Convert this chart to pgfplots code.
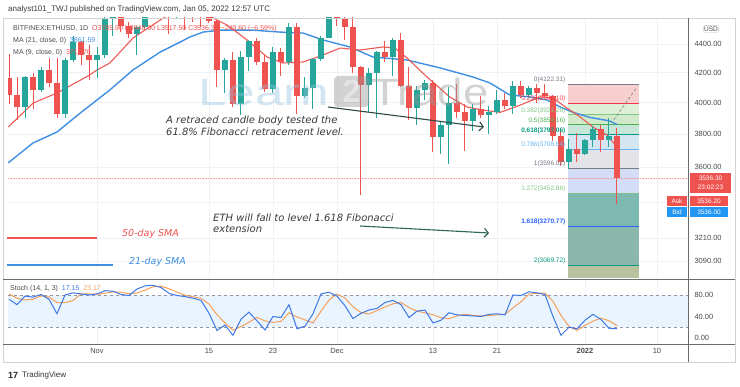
\documentclass[border=0pt]{standalone}
\usepackage{fontspec}
\setmainfont{Liberation Sans}
\newfontfamily\dejavu{DejaVu Sans}
\usepackage{pgfplots}
\usepackage{pgfplotstable}
\pgfplotsset{compat=1.18}
\usetikzlibrary{arrows.meta}

\definecolor{tvgreen}{HTML}{26A69A}
\definecolor{tvred}{HTML}{EF5350}
\definecolor{mared}{HTML}{EE5A55}
\definecolor{mablue}{HTML}{3F8FE3}
\definecolor{stk}{HTML}{3F78E6}
\definecolor{std}{HTML}{F4A05C}
\definecolor{gridc}{HTML}{EEF1F6}
\definecolor{txt}{HTML}{3A3A3A}
\definecolor{lbl}{HTML}{4A4A4A}
\definecolor{sep}{HTML}{6B6B6B}
\definecolor{fz0}{HTML}{F7CFCF}
\definecolor{fz1}{HTML}{DDEFD6}
\definecolor{fz2}{HTML}{D2EACC}
\definecolor{fz3}{HTML}{C6E6D8}
\definecolor{fz4}{HTML}{D5E6F3}
\definecolor{fz5}{HTML}{E4E4E8}
\definecolor{fz6}{HTML}{D3DDF7}
\definecolor{fz7}{HTML}{7DB9B1}
\definecolor{fz8}{HTML}{8BB7AC}
\definecolor{fz9}{HTML}{B7C39F}
\definecolor{fl0}{HTML}{787B86}
\definecolor{fl1}{HTML}{F23645}
\definecolor{fl2}{HTML}{81C784}
\definecolor{fl3}{HTML}{4CAF50}
\definecolor{fl4}{HTML}{089981}
\definecolor{fl5}{HTML}{64B5F6}
\definecolor{fl7}{HTML}{81C784}
\definecolor{fl8}{HTML}{2962FF}
\definecolor{fl9}{HTML}{089981}
\definecolor{arr1}{HTML}{2F4A44}
\definecolor{arr2}{HTML}{2E6655}
\definecolor{bidblue}{HTML}{2196F3}
\definecolor{wmblue}{HTML}{96C3E1}
\definecolor{wmgrey}{HTML}{969696}

\pgfplotstableread{
d o h l c
-11 4163 4330 3990 4050
-10 4050 4170 3890 3972
-9 3972 4180 3900 4170
-8 4170 4200 3960 4085
-7 4085 4240 4070 4220
-6 4220 4300 4100 4130
-5 4130 4300 3900 3925
-4 3925 4300 3900 4285
-3 4285 4460 4270 4414
-2 4414 4420 4250 4320
-1 4320 4390 4150 4290
0 4290 4380 4160 4320
1 4320 4600 4300 4585
2 4585 4665 4460 4605
3 4605 4670 4490 4530
4 4530 4560 4440 4475
5 4475 4530 4320 4520
6 4520 4630 4510 4620
7 4620 4820 4610 4810
8 4810 4870 4710 4735
9 4735 4870 4470 4635
10 4635 4780 4580 4730
11 4730 4810 4500 4665
12 4665 4700 4560 4645
13 4645 4690 4520 4625
14 4625 4770 4550 4570
15 4570 4575 4100 4215
16 4215 4300 4060 4290
17 4290 4345 3970 3990
18 3990 4350 3920 4310
19 4310 4430 4210 4420
20 4420 4440 4250 4270
21 4270 4320 4070 4090
22 4090 4380 4060 4340
23 4340 4370 4180 4270
24 4270 4550 4250 4525
25 4525 4550 3930 4040
26 4040 4170 4030 4095
27 4095 4300 3960 4295
28 4295 4460 4280 4445
29 4445 4780 4440 4630
30 4630 4780 4530 4590
31 4590 4640 4430 4520
32 4520 4640 4200 4240
33 4240 4245 3440 4115
34 4115 4230 3940 4195
35 4195 4350 3900 4345
36 4345 4420 4270 4310
37 4310 4440 4180 4430
38 4430 4480 4100 4110
39 4110 4240 3890 3965
40 3965 4110 3860 4085
41 4085 4150 4020 4130
42 4130 4150 3690 3780
43 3780 3880 3680 3860
44 3860 4100 3620 4000
45 4000 4120 3900 3940
46 3940 3990 3700 3880
47 3880 3990 3820 3960
48 3960 4040 3900 3920
49 3920 3980 3800 3940
50 3940 4080 3930 4020
51 4020 4060 3960 3980
52 3980 4140 3930 4110
53 4110 4140 4030 4050
54 4050 4110 4030 4095
55 4095 4120 4000 4065
56 4065 4125 4030 4040
57 4040 4050 3760 3790
58 3790 3830 3610 3630
59 3630 3770 3590 3710
60 3710 3810 3630 3680
61 3680 3770 3675 3765
62 3765 3850 3720 3830
63 3830 3855 3690 3765
64 3765 3900 3720 3790
65 3790 3840 3392 3536
}\candles

\pgfplotstableread{
d v
-11.1 3844
-8 3997
-5 4063
-0.9 4184
0 4218
1.6 4266
4.5 4443
7.9 4575
10 4650
13 4660
14.5 4590
16.25 4538
18.75 4429
21.25 4308
23.25 4266
25.75 4273
28.25 4322
30.4 4371
32.9 4357
35.75 4379
37.25 4371
38.75 4301
41.25 4170
44.1 4037
46.25 3972
48.25 3952
50.4 3938
52.9 3985
55.4 4037
57 4030
58.75 3965
60.4 3908
62 3844
63.75 3795
65 3722
}\manine

\pgfplotstableread{
d v
-11.1 3627
-8 3746
-5 3814
-2.1 3933
1.6 4083
4.5 4218
7.9 4343
10.4 4414
11.6 4450
13.25 4486
15.4 4500
19.5 4500
22.9 4486
25.75 4479
28.25 4429
31.6 4379
34.5 4308
38.75 4287
42.9 4232
47 4170
49.1 4130
51.6 4050
54.1 4037
56.25 4017
57.9 3972
59.5 3938
61.6 3905
64 3884
65 3861
}\matwenty

\pgfplotstableread{
d k dd
-11 72 82
-10 62 74
-9 78 70.7
-8 76 72
-7 81 78.3
-6 72 76.3
-5 45 66
-4 80 65.7
-3 84 69.7
-2 82 82
-1 80 82
0 82 81.3
1 88 83.3
2 87 85.7
3 81 85.3
4 79 82.3
5 91 83.7
6 97 89
7 98 95.3
8 94 96.3
9 83 91.7
10 79 85.3
11 77 79.7
12 74 76.7
13 70 73.7
14 46 63.3
15 14 43.3
16 24 28
17 5 14.3
18 35 21.3
19 48 29.3
20 32 38.3
21 15 31.7
22 40 29
23 38 31
24 62 46.7
25 17 39
26 22 33.7
27 45 28
28 82 49.7
29 85 70.7
30 78 81.7
31 60 74.3
32 36 58
33 46 47.3
34 52 44.7
35 55 51
36 66 57.7
37 70 63.7
38 62 66
39 38 56.7
40 50 50
41 52 46.7
42 28 43.3
43 33 37.7
44 47 36
45 43 41
46 42 44
47 41 42
48 40 41
49 44 41.7
50 45 43
51 43 44
52 80 56
53 79 67.3
54 86 81.7
55 84 83
56 81 83.7
57 40 68.3
58 5 42
59 20 21.7
60 17 14
61 33 23.3
62 44 31.3
63 34.4 37.1
64 18 32.1
65 17.15 23.17
}\stoch

\newcommand{\fs}[1]{\fontsize{#1}{#1}\selectfont}

\begin{document}
\begin{tikzpicture}
\useasboundingbox (0pt,0pt) rectangle (740pt,387pt);
\fill[white] (0pt,0pt) rectangle (740pt,387pt);

% ---------------- main price panel ----------------
\begin{axis}[
  at={(8pt,109pt)}, anchor=south west, scale only axis,
  width=680pt, height=260pt,
  xmin=-11.125, xmax=73.875,
  y coord trafo/.code={\pgfmathparse{ln(#1)}},
  y coord inv trafo/.code={\pgfmathparse{exp(#1)}},
  ymin=3007.6, ymax=4590,
  axis line style={draw=none}, tick style={draw=none},
  xtick={0,14,22,30,42,50,61,70}, xticklabels={},
  ytick={3090,3210,3400,3600,3800,4000,4200,4400},
  yticklabels={3090.00,3210.00,,3600.00,3800.00,4000.00,4200.00,4400.00},
  yticklabel pos=right,
  yticklabel style={font=\fs{7.5}, text=lbl, anchor=west, xshift=3pt},
  xmajorgrids, ymajorgrids, major grid style={gridc, line width=0.7pt},
  clip=true,
]
% fib extension zones
\addplot[fill=fz0, draw=none] coordinates {(58.9,4122.31) (67.75,4122.31) (67.75,3998.10) (58.9,3998.10)} --cycle;
\addplot[fill=fz1, draw=none] coordinates {(58.9,3998.10) (67.75,3998.10) (67.75,3921.26) (58.9,3921.26)} --cycle;
\addplot[fill=fz2, draw=none] coordinates {(58.9,3921.26) (67.75,3921.26) (67.75,3859.16) (58.9,3859.16)} --cycle;
\addplot[fill=fz3, draw=none] coordinates {(58.9,3859.16) (67.75,3859.16) (67.75,3797.06) (58.9,3797.06)} --cycle;
\addplot[fill=fz4, draw=none] coordinates {(58.9,3797.06) (67.75,3797.06) (67.75,3708.64) (58.9,3708.64)} --cycle;
\addplot[fill=fz5, draw=none] coordinates {(58.9,3708.64) (67.75,3708.64) (67.75,3596.02) (58.9,3596.02)} --cycle;
\addplot[fill=fz6, draw=none] coordinates {(58.9,3596.02) (67.75,3596.02) (67.75,3452.86) (58.9,3452.86)} --cycle;
\addplot[fill=fz7, draw=none] coordinates {(58.9,3452.86) (67.75,3452.86) (67.75,3270.77) (58.9,3270.77)} --cycle;
\addplot[fill=fz8, draw=none] coordinates {(58.9,3270.77) (67.75,3270.77) (67.75,3069.72) (58.9,3069.72)} --cycle;
\addplot[fill=fz9, draw=none] coordinates {(58.9,3069.72) (67.75,3069.72) (67.75,2990) (58.9,2990)} --cycle;
% fib lines
\addplot[fl0, line width=0.9pt] coordinates {(58.9,4122.31) (67.75,4122.31)};
\addplot[fl1, line width=0.9pt] coordinates {(58.9,3998.10) (67.75,3998.10)};
\addplot[fl2, line width=0.9pt] coordinates {(58.9,3921.26) (67.75,3921.26)};
\addplot[fl3, line width=0.9pt] coordinates {(58.9,3859.16) (67.75,3859.16)};
\addplot[fl4, line width=0.9pt] coordinates {(58.9,3797.06) (67.75,3797.06)};
\addplot[fl5, line width=0.9pt] coordinates {(58.9,3708.64) (67.75,3708.64)};
\addplot[fl0, line width=0.9pt] coordinates {(58.9,3596.02) (67.75,3596.02)};
\addplot[fl7, line width=0.9pt] coordinates {(58.9,3452.86) (67.75,3452.86)};
\addplot[fl8, line width=0.9pt] coordinates {(58.9,3270.77) (67.75,3270.77)};
\addplot[fl9, line width=0.9pt] coordinates {(58.9,3069.72) (67.75,3069.72)};
\addplot[gray, densely dashed, line width=0.6pt] coordinates {(64.6,3890) (67.4,4095)};
% current price line
\addplot[tvred!60, densely dotted, line width=0.6pt] coordinates {(-11.125,3536.3) (73.875,3536.3)};
% moving averages
\addplot[mablue, line width=1.4pt] table[x=d,y=v] {\matwenty};
\addplot[mared, line width=1.1pt] table[x=d,y=v] {\manine};
% candles
\pgfplotstablegetrowsof{\candles}
\pgfmathtruncatemacro{\lastrow}{\pgfplotsretval-1}
\pgfplotsforeachungrouped \rr in {0,...,\lastrow}{%
  \pgfplotstablegetelem{\rr}{d}\of{\candles}\let\cd\pgfplotsretval
  \pgfplotstablegetelem{\rr}{o}\of{\candles}\let\co\pgfplotsretval
  \pgfplotstablegetelem{\rr}{h}\of{\candles}\let\ch\pgfplotsretval
  \pgfplotstablegetelem{\rr}{l}\of{\candles}\let\cl\pgfplotsretval
  \pgfplotstablegetelem{\rr}{c}\of{\candles}\let\cc\pgfplotsretval
  \ifdim\cc pt<\co pt \def\ccol{tvred}\else\def\ccol{tvgreen}\fi
  \edef\doplot{%
    \noexpand\addplot[draw=\ccol, line width=1pt] coordinates {(\cd,\cl) (\cd,\ch)};
    \noexpand\addplot[draw=\ccol, line width=5.8pt, line cap=butt] coordinates {(\cd,\co) (\cd,\cc)};
  }\doplot
}
% fib labels
\node[anchor=south east, inner sep=1pt, font=\fs{6.5}, text=fl0] at (axis cs:58.7,4122.31) {0(4122.31)};
\node[anchor=south east, inner sep=1pt, font=\fs{6.5}, text=fl1] at (axis cs:58.7,3998.10) {0.236(3998.10)};
\node[anchor=south east, inner sep=1pt, font=\fs{6.5}, text=fl2] at (axis cs:58.7,3921.26) {0.382(3921.26)};
\node[anchor=south east, inner sep=1pt, font=\fs{6.5}, text=fl3] at (axis cs:58.7,3859.16) {0.5(3859.16)};
\node[anchor=south east, inner sep=1pt, font=\bfseries\fs{6.5}, text=fl4] at (axis cs:58.7,3797.06) {0.618(3797.06)};
\node[anchor=south east, inner sep=1pt, font=\fs{6.5}, text=fl5] at (axis cs:58.7,3708.64) {0.786(3708.64)};
\node[anchor=south east, inner sep=1pt, font=\fs{6.5}, text=fl0] at (axis cs:58.7,3596.02) {1(3596.02)};
\node[anchor=south east, inner sep=1pt, font=\fs{6.5}, text=fl7] at (axis cs:58.7,3452.86) {1.272(3452.86)};
\node[anchor=south east, inner sep=1pt, font=\bfseries\fs{6.5}, text=fl8] at (axis cs:58.7,3270.77) {1.618(3270.77)};
\node[anchor=south east, inner sep=1pt, font=\fs{6.5}, text=fl9] at (axis cs:58.7,3069.72) {2(3069.72)};
\end{axis}

% ---------------- stochastic panel ----------------
\begin{axis}[
  at={(8pt,43pt)}, anchor=south west, scale only axis,
  width=680pt, height=64pt,
  xmin=-11.125, xmax=73.875, ymin=-11.2, ymax=107.9,
  axis line style={draw=none}, tick style={draw=none},
  xtick={0,14,22,30,42,50,61,70},
  xticklabels={Nov,15,23,Dec,13,21,\textbf{2022},10},
  xticklabel style={font=\fs{7.5}, text=lbl, anchor=north, yshift=-1pt},
  ytick={0,40,80}, yticklabels={0.00,40.00,80.00},
  yticklabel pos=right,
  yticklabel style={font=\fs{7.5}, text=lbl, anchor=west, xshift=3pt},
  xmajorgrids, major grid style={gridc, line width=0.7pt},
]
\addplot[fill=bidblue!10, draw=none] coordinates {(-11.125,20) (73.875,20) (73.875,80) (-11.125,80)} --cycle;
\addplot[fl0!80, dashed, line width=0.6pt] coordinates {(-11.125,80) (73.875,80)};
\addplot[fl0!80, dashed, line width=0.6pt] coordinates {(-11.125,20) (73.875,20)};
\addplot[std, line width=1pt] table[x=d,y=dd] {\stoch};
\addplot[stk, line width=1pt] table[x=d,y=k] {\stoch};
\end{axis}

\begin{scope}[x=1pt,y=1pt]
% ---------------- frame and separators ----------------
\draw[gray!35, line width=0.6pt] (3,25) rectangle (735,369);
\draw[sep, line width=0.7pt] (3,108) -- (735,108);
\draw[sep, line width=0.7pt] (3,43) -- (735,43);
\draw[sep, line width=0.7pt] (688,25) -- (688,369);

% watermark
\begin{scope}[opacity=0.42]
\node[anchor=base west, inner sep=0, font=\fs{38}, text=wmblue, xscale=1.35] at (198,281) {Learn};
\fill[wmgrey, rounded corners=4pt] (334,280) rectangle (369,311);
\node[anchor=base, inner sep=0, font=\bfseries\fs{32}, text=white] at (351.5,284) {2};
\node[anchor=base west, inner sep=0, font=\fs{38}, text=wmgrey, xscale=1.2] at (371,281) {Trade};
\end{scope}

% header and legends
\node[anchor=west, inner sep=0, font=\fs{8}, text=txt] at (8,378) {analyst101\_TWJ published on TradingView.com, Jan 05, 2022 12:57 UTC};
\node[anchor=west, inner sep=0, font=\fs{7}, text=lbl] at (13,358) {BITFINEX:ETHUSD, 1D\ \ \textcolor{tvred}{O3785.90 H3848.90 L3517.50 C3536.30 −249.60 (−6.59\%)}};
\node[anchor=west, inner sep=0, font=\fs{7}, text=lbl] at (13,346) {MA (21, close, 0)\ \ \textcolor{mablue}{3861.59}};
\node[anchor=west, inner sep=0, font=\fs{7}, text=lbl] at (13,334) {MA (9, close, 0)\ \ \textcolor{tvred}{3711.76}};
\node[anchor=west, inner sep=0, font=\fs{7}, text=lbl] at (10,98) {Stoch (14, 1, 3)\ \ \textcolor{stk}{17.15}\ \ \textcolor{std}{23.17}};

% annotations
\node[anchor=west, inner sep=0, font=\dejavu\itshape\fs{10}, text=txt] at (166,266) {A retraced candle body tested the};
\node[anchor=west, inner sep=0, font=\dejavu\itshape\fs{10}, text=txt] at (166,255) {61.8\% Fibonacci retracement level.};
\draw[arr1, line width=1.1pt, -{Straight Barb[length=4pt,width=9pt]}] (328,280) -- (484,260);
\node[anchor=west, inner sep=0, font=\dejavu\itshape\fs{10}, text=txt] at (213,169) {ETH will fall to level 1.618 Fibonacci};
\node[anchor=west, inner sep=0, font=\dejavu\itshape\fs{10}, text=txt] at (213,158) {extension};
\draw[arr2, line width=1.1pt, -{Straight Barb[length=4pt,width=9pt]}] (360,161) -- (489,154);
\draw[tvred, line width=1.2pt] (7,149) -- (97,149);
\node[anchor=west, inner sep=0, font=\dejavu\itshape\fs{9.5}, text=tvred] at (122,153) {50-day SMA};
\draw[mablue, line width=1.4pt] (7,122) -- (113,122);
\node[anchor=west, inner sep=0, font=\dejavu\itshape\fs{9.5}, text=mablue] at (129,125) {21-day SMA};

% price scale boxes
\node[draw=gray!50, rounded corners=1.5pt, inner sep=1pt, font=\fs{6.5}, text=lbl] at (711,358) {USD};
\fill[tvred] (690,194) rectangle (731,214);
\node[font=\fs{6.5}, text=white, inner sep=0] at (710.5,208.5) {3536.30};
\node[font=\fs{6.5}, text=white, inner sep=0] at (710.5,199.5) {23:02:23};
\fill[tvred] (667,181) rectangle (687,191);
\node[font=\fs{6.5}, text=white, inner sep=0] at (677,186) {Ask};
\fill[tvred] (690,181) rectangle (728,191);
\node[font=\fs{6.5}, text=white, inner sep=0] at (709,186) {3536.20};
\fill[bidblue] (667,170) rectangle (687,180);
\node[font=\fs{6.5}, text=white, inner sep=0] at (677,175) {Bid};
\fill[bidblue] (690,170) rectangle (728,180);
\node[font=\fs{6.5}, text=white, inner sep=0] at (709,175) {3536.00};

% logo
\node[anchor=west, inner sep=0, font=\bfseries\fs{9}, text=black!85] at (8,12) {17};
\node[anchor=west, inner sep=0, font=\fs{8}, text=black!80] at (22,12) {TradingView};
\end{scope}
\end{tikzpicture}
\end{document}
